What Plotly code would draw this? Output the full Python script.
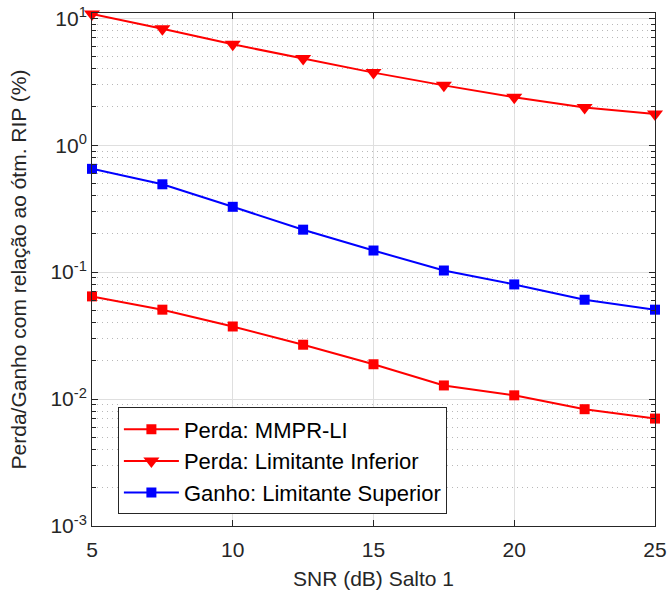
import numpy as np
import plotly.graph_objects as go

snr = [5, 7.5, 10, 12.5, 15, 17.5, 20, 22.5, 25]
perda_mmpr = [0.0644, 0.0506, 0.0373, 0.0268, 0.0188, 0.0128, 0.0107, 0.00832, 0.00702]
perda_lim_inf = [10.8, 8.28, 6.23, 4.81, 3.73, 2.96, 2.39, 1.98, 1.76]
ganho_lim_sup = [0.651, 0.492, 0.327, 0.216, 0.148, 0.103, 0.080, 0.0606, 0.0506]

names = ["Perda: MMPR-LI", "Perda: Limitante Inferior", "Ganho: Limitante Superior"]
x_ticks = [5, 10, 15, 20, 25]
y_tickvals = [1e-3, 1e-2, 1e-1, 1, 10]
y_ticktext = ["10<sup>-3</sup>", "10<sup>-2</sup>", "10<sup>-1</sup>", "10<sup>0</sup>", "10<sup>1</sup>"]
y_minor = [k * 10.0 ** d for d in range(-3, 1) for k in range(2, 10)]

FONT = "Liberation Sans, Arial, Helvetica, sans-serif"
AX = "#262626"

fig = go.Figure()
fig.add_trace(go.Scatter(x=snr, y=perda_mmpr, name=names[0], mode="lines+markers",
                         line=dict(color="#ff0000", width=2),
                         marker=dict(symbol="square", size=10, color="#ff0000"),
                         cliponaxis=False))
fig.add_trace(go.Scatter(x=snr, y=perda_lim_inf, name=names[1], mode="lines+markers",
                         line=dict(color="#ff0000", width=2),
                         marker=dict(symbol="triangle-down", size=14, color="#ff0000"),
                         cliponaxis=False))
fig.add_trace(go.Scatter(x=snr, y=ganho_lim_sup, name=names[2], mode="lines+markers",
                         line=dict(color="#0000ff", width=2),
                         marker=dict(symbol="square", size=10, color="#0000ff"),
                         cliponaxis=False))

fig.update_layout(
    width=670, height=594,
    margin=dict(l=92, r=15, t=13, b=68, autoexpand=False),
    paper_bgcolor="white", plot_bgcolor="white",
    font=dict(family=FONT, size=21, color=AX),
    showlegend=True,
    legend=dict(x=0.046, y=0.231, xanchor="left", yanchor="top",
                bordercolor=AX, borderwidth=1, bgcolor="white",
                font=dict(family=FONT, size=22, color="black"),
                itemwidth=55, tracegroupgap=0),
)

fig.update_xaxes(
    range=[5, 25], tickvals=x_ticks, ticks="inside", ticklen=6, tickcolor=AX,
    showline=True, linecolor=AX, linewidth=1, mirror="allticks",
    showgrid=True, gridcolor="#dfdfdf", gridwidth=1, zeroline=False,
    automargin=False, ticklabelstandoff=5, ticklabeloverflow="allow",
    tickfont=dict(family=FONT, size=21, color=AX),
    title=dict(text="SNR (dB) Salto 1", font=dict(family=FONT, size=21, color=AX), standoff=11),
)

fig.update_yaxes(
    type="log", range=[-3, np.log10(11)],
    tickvals=y_tickvals, ticktext=y_ticktext,
    ticks="inside", ticklen=6, tickcolor=AX,
    showline=True, linecolor=AX, linewidth=1, mirror="allticks",
    showgrid=True, gridcolor="#dfdfdf", gridwidth=1, zeroline=False,
    automargin=False, ticklabeloverflow="allow",
    tickfont=dict(family=FONT, size=21, color=AX),
    minor=dict(tickvals=y_minor, ticks="inside", ticklen=4, tickcolor=AX,
               showgrid=True, gridcolor="#b8b8b8", griddash="1px,4px", gridwidth=1),
    title=dict(text="Perda/Ganho com relação ao ótm. RIP (%)",
               font=dict(family=FONT, size=21, color=AX), standoff=18),
)

fig.write_html(
    "out.html",
    config={"displayModeBar": False},
    post_script="document.body.style.margin='0';document.body.style.overflow='hidden';",
)
